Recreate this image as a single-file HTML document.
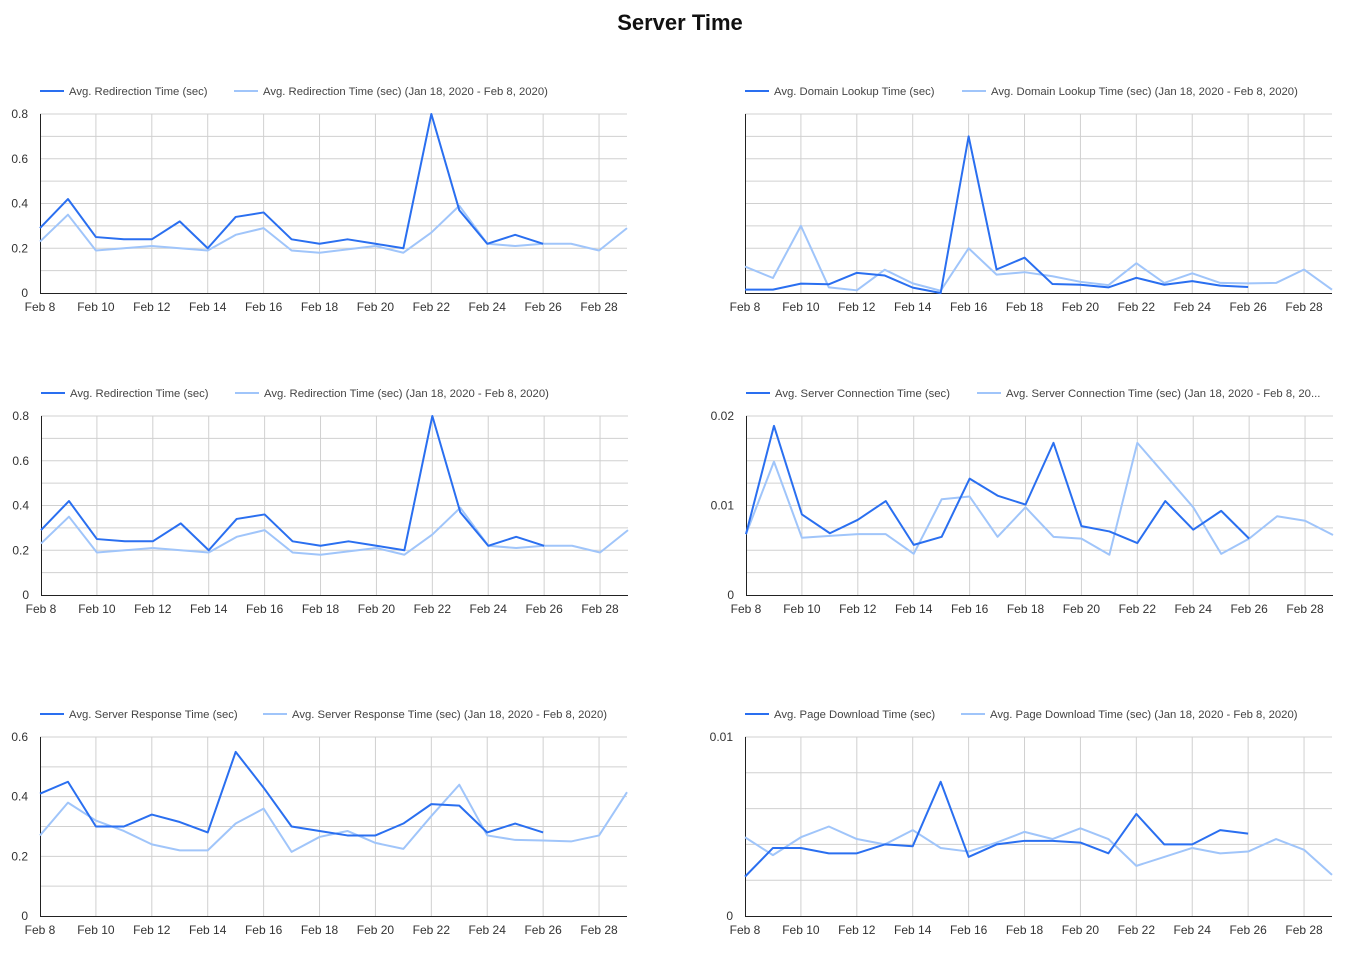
<!DOCTYPE html>
<html><head><meta charset="utf-8"><style>
html,body{margin:0;padding:0;background:#fff;}
svg{display:block;font-family:"Liberation Sans",Arial,sans-serif;}
</style></head><body>
<svg id="root" width="1348" height="954" viewBox="0 0 1348 954">
<text x="680" y="30" text-anchor="middle" font-size="22" font-weight="bold" fill="#111">Server Time</text>
</svg>
<script>
const days = ["Feb 8","Feb 9","Feb 10","Feb 11","Feb 12","Feb 13","Feb 14","Feb 15","Feb 16","Feb 17","Feb 18","Feb 19","Feb 20","Feb 21","Feb 22","Feb 23","Feb 24","Feb 25","Feb 26","Feb 27","Feb 28","Feb 29"];

const redirCur = [0.29,0.42,0.25,0.24,0.24,0.32,0.20,0.34,0.36,0.24,0.22,0.24,0.22,0.20,0.80,0.37,0.22,0.26,0.22];
const redirPrev = [0.23,0.35,0.19,0.20,0.21,0.20,0.19,0.26,0.29,0.19,0.18,0.195,0.21,0.18,0.27,0.39,0.22,0.21,0.22,0.22,0.19,0.29];
const redirTicks = ["0","0.2","0.4","0.6","0.8"];

const dnsCur = [0.15,0.15,0.42,0.39,0.9,0.78,0.24,0,7.0,1.05,1.58,0.4,0.37,0.25,0.68,0.37,0.53,0.33,0.27];
const dnsPrev = [1.18,0.67,3.0,0.25,0.12,1.04,0.43,0.1,2.0,0.82,0.93,0.75,0.5,0.35,1.33,0.45,0.88,0.45,0.43,0.45,1.05,0.15];

const connCur = [0.0068,0.0189,0.0090,0.0069,0.0084,0.0105,0.0056,0.0065,0.0130,0.0111,0.0101,0.0170,0.0077,0.0071,0.0058,0.0105,0.0073,0.0094,0.0063];
const connPrev = [0.0068,0.0149,0.0064,0.0066,0.0068,0.0068,0.0046,0.0107,0.0110,0.0065,0.0098,0.0065,0.0063,0.0045,0.0170,0.0134,0.0098,0.0046,0.0063,0.0088,0.0083,0.0067];
const connTicks = ["0","0.01","0.02"];

const respCur = [0.41,0.45,0.30,0.30,0.34,0.315,0.28,0.55,0.43,0.30,0.285,0.27,0.27,0.31,0.375,0.37,0.28,0.31,0.28];
const respPrev = [0.27,0.38,0.32,0.285,0.24,0.22,0.22,0.31,0.36,0.215,0.265,0.285,0.245,0.225,0.335,0.44,0.27,0.255,0.253,0.25,0.27,0.415];
const respTicks = ["0","0.2","0.4","0.6"];

const dlCur = [0.0022,0.0038,0.0038,0.0035,0.0035,0.0040,0.0039,0.0075,0.0033,0.0040,0.0042,0.0042,0.0041,0.0035,0.0057,0.0040,0.0040,0.0048,0.0046];
const dlPrev = [0.0044,0.0034,0.0044,0.0050,0.0043,0.0040,0.0048,0.0038,0.0036,0.0041,0.0047,0.0043,0.0049,0.0043,0.0028,0.0033,0.0038,0.0035,0.0036,0.0043,0.0037,0.0023];
const dlTicks = ["0","0.01"];

const NS="http://www.w3.org/2000/svg";
const root=document.getElementById('root');
function mk(tag,attrs,parent){const e=document.createElementNS(NS,tag);for(const k in attrs)e.setAttribute(k,attrs[k]);(parent||root).appendChild(e);return e;}

function chart(o){
  const g=mk('g',{});
  
  
  const x0=o.x0,x1=o.x1,y0=o.y0,y1=o.y1;
  const xs=i=>x0+(x1-x0)*i/(days.length-1);
  const ys=v=>y1-(y1-y0)*v/o.max;
  for(let k=1;k<=o.div;k++){
    const y=y1-(y1-y0)*k/o.div;
    const l=mk('line',{x1:x0,x2:x1,y1:y,y2:y,stroke:'#d0d0d0','stroke-width':1},g);
    
    
  }
  for(let i=0;i<days.length;i+=2){
    const x=xs(i);
    if(i>0){const l=mk('line',{x1:x,x2:x,y1:y0,y2:y1,stroke:'#d0d0d0','stroke-width':1},g);
      
      }
    const t=mk('text',{x:x,y:y1+18,'text-anchor':'middle','font-size':12,fill:'#333'},g);
    t.textContent=days[i];
    
    
  }
  if(o.ticks){o.ticks.forEach((lab,k)=>{
    const v=o.max*k/(o.ticks.length-1);
    const t=mk('text',{x:x0-12,y:ys(v)+4,'text-anchor':'end','font-size':12,fill:'#333'},g);
    t.textContent=lab;
    
    
  });}
  const ax=mk('line',{x1:x0+0.5,x2:x0+0.5,y1:y0,y2:y1,stroke:'#222','stroke-width':1},g);
  
  
  const bx=mk('line',{x1:x0,x2:x1,y1:y1+0.5,y2:y1+0.5,stroke:'#222','stroke-width':1},g);
  
  
  const line=(arr,col,nm)=>{
    const p=mk('polyline',{points:arr.map((v,i)=>xs(i)+','+ys(v)).join(' '),fill:'none',stroke:col,'stroke-width':2,'stroke-linejoin':'round'},g);
    
    
  };
  line(o.prev,'#a0c5fa','series-previous-period');
  line(o.cur,'#2a6ff0','series-current');
  const ly=y0-23;
  const leg=(lx,col,txt,nm)=>{
    const l=mk('line',{x1:lx,x2:lx+24,y1:ly,y2:ly,stroke:col,'stroke-width':2},g);
    
    
    const t=mk('text',{x:lx+29,y:ly+4,'font-size':11.3,fill:'#444'},g);
    t.textContent=txt;
    
    
  };
  leg(x0,'#2a6ff0',o.l1,'legend-entry-current');
  leg(o.l2x,'#a0c5fa',o.l2,'legend-entry-previous');
}

const P=" (Jan 18, 2020 - Feb 8, 2020)";
chart({name:'redirection-chart-1',x0:40,x1:627,y0:114,y1:293,max:0.8,div:8,ticks:redirTicks,cur:redirCur,prev:redirPrev,l1:'Avg. Redirection Time (sec)',l2:'Avg. Redirection Time (sec)'+P,l2x:234});
chart({name:'domain-lookup-chart',x0:745,x1:1332,y0:114,y1:293,max:8,div:8,ticks:null,cur:dnsCur,prev:dnsPrev,l1:'Avg. Domain Lookup Time (sec)',l2:'Avg. Domain Lookup Time (sec)'+P,l2x:962});
chart({name:'redirection-chart-2',x0:41,x1:628,y0:416,y1:595,max:0.8,div:8,ticks:redirTicks,cur:redirCur,prev:redirPrev,l1:'Avg. Redirection Time (sec)',l2:'Avg. Redirection Time (sec)'+P,l2x:235});
chart({name:'server-connection-chart',x0:746,x1:1333,y0:416,y1:595,max:0.02,div:8,ticks:connTicks,cur:connCur,prev:connPrev,l1:'Avg. Server Connection Time (sec)',l2:'Avg. Server Connection Time (sec) (Jan 18, 2020 - Feb 8, 20...',l2x:977});
chart({name:'server-response-chart',x0:40,x1:627,y0:737,y1:916,max:0.6,div:6,ticks:respTicks,cur:respCur,prev:respPrev,l1:'Avg. Server Response Time (sec)',l2:'Avg. Server Response Time (sec)'+P,l2x:263});
chart({name:'page-download-chart',x0:745,x1:1332,y0:737,y1:916,max:0.01,div:5,ticks:dlTicks,cur:dlCur,prev:dlPrev,l1:'Avg. Page Download Time (sec)',l2:'Avg. Page Download Time (sec)'+P,l2x:961});
</script>
</body></html>
